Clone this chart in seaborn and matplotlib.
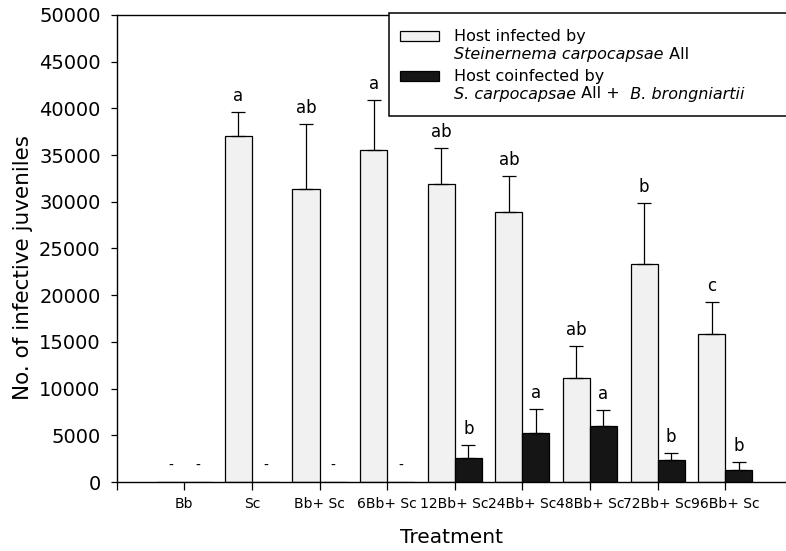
import matplotlib
matplotlib.use("Agg")
import matplotlib.pyplot as plt
from matplotlib.patches import Rectangle
import seaborn as sns
import pandas as pd
import numpy as np

# ---------------- data ----------------
categories = ['Bb', 'Sc', 'Bb+ Sc', '6Bb+ Sc', '12Bb+ Sc', '24Bb+ Sc',
              '48Bb+ Sc', '72Bb+ Sc', '96Bb+ Sc']
single_vals = [0, 37080, 31400, 35550, 31870, 28870, 11170, 23340, 15850]
single_err = [0, 2570, 6930, 5350, 3850, 3890, 3390, 6560, 3450]
co_vals = [0, 0, 0, 0, 2540, 5210, 6000, 2360, 1285]
co_err = [0, 0, 0, 0, 1420, 2610, 1710, 780, 815]
single_letters = ['', 'a', 'ab', 'a', 'ab', 'ab', 'ab', 'b', 'c']
co_letters = ['', '', '', '', 'b', 'a', 'a', 'b', 'b']
single_zero = [True, False, False, False, False, False, False, False, False]
co_zero = [True, True, True, True, False, False, False, False, False]
series = ['single', 'co']
# legend text: each line is a list of (text, italic?) segments
legend_lines = [
    [[("Host infected by", False)],
     [("Steinernema carpocapsae", True), (" All", False)]],
    [[("Host coinfected by", False)],
     [("S. carpocapsae", True), (" All +", False), ("  B. brongniartii", True)]],
]
yticks = list(range(0, 50001, 5000))

df = pd.DataFrame({
    'Treatment': categories * 2,
    'Series': [series[0]] * len(categories) + [series[1]] * len(categories),
    'Value': single_vals + co_vals,
})

sns.set_style("white")
plt.rcParams['font.family'] = ['DejaVu Sans']
for k in ['text.color', 'axes.labelcolor', 'xtick.color', 'ytick.color', 'axes.edgecolor']:
    plt.rcParams[k] = 'black'

colors = {'single': '#f1f1f1', 'co': '#151515'}

W, H = 786, 551
fig = plt.figure(figsize=(W / 100, H / 100), dpi=100)
ax = fig.add_axes([116.7 / W, 1 - 482 / H, 1 - 116.7 / W, (482 - 15) / H])

sns.barplot(data=df, x='Treatment', y='Value', hue='Series', order=categories,
            hue_order=series, palette=colors,
            edgecolor='black', linewidth=0.9, width=0.8, errorbar=None,
            saturation=1, ax=ax, legend=False)

xpos = np.arange(len(categories))
xs_single = xpos - 0.2
xs_co = xpos + 0.2

for xs, vals, errs, letters, zeros in [
        (xs_single, single_vals, single_err, single_letters, single_zero),
        (xs_co, co_vals, co_err, co_letters, co_zero)]:
    for x, v, e, l, z in zip(xs, vals, errs, letters, zeros):
        if e > 0:
            ax.errorbar([x], [v], yerr=[[0], [e]], fmt='none', ecolor='black',
                        elinewidth=0.9, capsize=4.7, capthick=0.9)
        if l:
            ax.annotate(l, (x, v + e), xytext=(0, 8), textcoords='offset points',
                        ha='center', va='baseline', fontsize=12)
        if z:
            ax.text(x, 1750, '-', ha='center', va='center', fontsize=10)

ax.set_xlim(-1.0, 8.9)
ax.set_ylim(0, 50000)
ax.set_yticks(yticks)
ax.set_yticklabels([str(t) for t in yticks], fontsize=14)
ax.set_xticks(list(range(-1, len(categories))))
ax.set_xticklabels([''] + categories, fontsize=10)
ax.tick_params(axis='y', direction='out', length=4.5, width=0.9, pad=7, left=True)
ax.tick_params(axis='x', direction='out', length=5.5, width=0.9, pad=5, bottom=True)

for s in ['left', 'bottom', 'top']:
    ax.spines[s].set_visible(True)
    ax.spines[s].set_color('black')
    ax.spines[s].set_linewidth(1.0)
ax.spines['right'].set_visible(False)

ax.set_ylabel('No. of infective juveniles', fontsize=15.5)
ax.yaxis.set_label_coords(-0.125, 0.46)
ax.set_xlabel('Treatment', fontsize=14.5)
ax.xaxis.set_label_coords(0.5, -0.098)

# ---- legend box (figure pixel coordinates, y from top) ----
def fx(px):
    return px / W

def fy(py):
    return 1 - py / H

renderer = fig.canvas.get_renderer()

def draw_line(x_px, base_py, segments, size):
    x = x_px
    for txt, it in segments:
        t = fig.text(fx(x), fy(base_py), txt, fontsize=size, va='baseline', ha='left',
                     fontstyle='italic' if it else 'normal', zorder=7)
        bb = t.get_window_extent(renderer)
        x = bb.x1

fig.patches.append(Rectangle((fx(389), fy(116)), fx(420), (116 - 13) / H,
                             transform=fig.transFigure, facecolor='white',
                             edgecolor='black', linewidth=1.1, zorder=5))
entry_colors = [colors['single'], colors['co']]
entry_tops = [31.0, 70.5]
for lines, c, top in zip(legend_lines, entry_colors, entry_tops):
    fig.patches.append(Rectangle((fx(400), fy(top + 10)), fx(39), 10 / H,
                                 transform=fig.transFigure, facecolor=c,
                                 edgecolor='black', linewidth=0.9, zorder=6))
    draw_line(454, top + 10.5, lines[0], 11.5)
    draw_line(454, top + 28.0, lines[1], 11.5)

fig.savefig('out.png', dpi=100)
